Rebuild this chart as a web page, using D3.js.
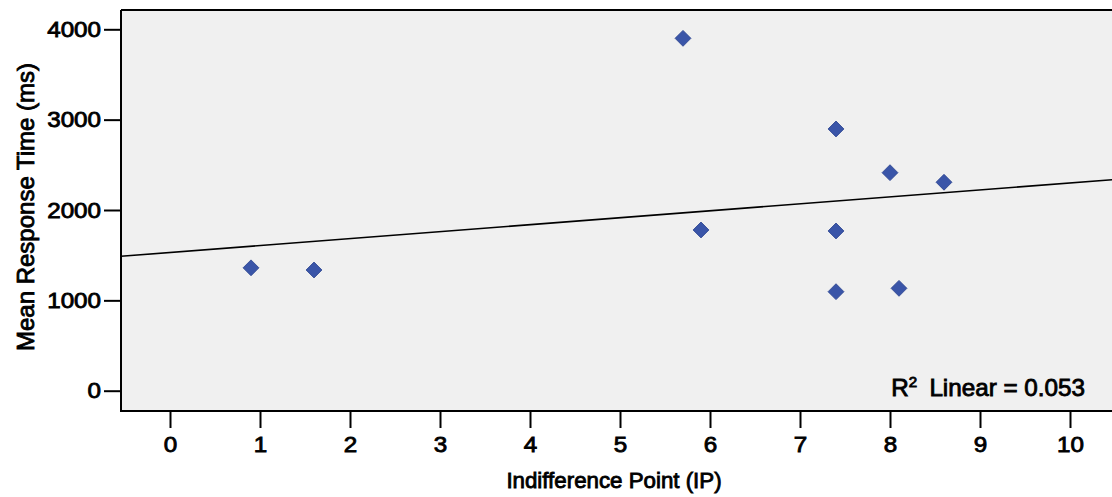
<!DOCTYPE html>
<html>
<head>
<meta charset="utf-8">
<script src="https://cdn.jsdelivr.net/npm/d3@7"></script>
<style>
  html, body { margin: 0; padding: 0; background: #ffffff; }
  svg { display: block; }
  text { font-family: "Liberation Sans", Arial, Helvetica, sans-serif; fill: #000; }
  .heavy { stroke: #000; stroke-width: 0.85px; paint-order: stroke; }
</style>
</head>
<body>
<svg id="chart" width="1112" height="497"></svg>
<script>
// Indifference point vs. mean response time, one point per participant
const ipValues   = [0.9, 1.6, 5.7, 5.9, 7.4, 7.4, 7.4, 8.0, 8.1, 8.6];
const rtValues   = [1360, 1336, 3900, 1779, 2897, 1768, 1096, 2413, 1133, 2307];
const xTickVals  = [0, 1, 2, 3, 4, 5, 6, 7, 8, 9, 10];
const yTickVals  = [0, 1000, 2000, 3000, 4000];
const rSquaredLabel = "0.053";

const frame = { left: 121, right: 1116, top: 10, bottom: 411 };
const WIDEN = 1.1; // horizontal stretch applied to tick labels

const svg = d3.select("#chart");

const x = d3.scaleLinear().domain([0, 10]).range([170, 1070]);
const y = d3.scaleLinear().domain([0, 4000]).range([390.7, 29.3]);

// plot background
svg.append("rect")
  .attr("x", frame.left).attr("y", frame.top)
  .attr("width", frame.right - frame.left)
  .attr("height", frame.bottom - frame.top)
  .attr("fill", "#f0f0f0");

svg.append("clipPath").attr("id", "plotClip")
  .append("rect")
  .attr("x", frame.left).attr("y", frame.top)
  .attr("width", frame.right - frame.left)
  .attr("height", frame.bottom - frame.top);

// least-squares fit line
const n = ipValues.length;
const mx = d3.mean(ipValues), my = d3.mean(rtValues);
let sxy = 0, sxx = 0;
for (let i = 0; i < n; i++) {
  sxy += (ipValues[i] - mx) * (rtValues[i] - my);
  sxx += (ipValues[i] - mx) ** 2;
}
const slope = sxy / sxx, intercept = my - slope * mx;
const xLo = x.invert(frame.left), xHi = x.invert(frame.right);

svg.append("line")
  .attr("clip-path", "url(#plotClip)")
  .attr("x1", x(xLo)).attr("y1", y(intercept + slope * xLo))
  .attr("x2", x(xHi)).attr("y2", y(intercept + slope * xHi))
  .attr("stroke", "#000").attr("stroke-width", 1.6);

// points
const diamond = d3.symbol().type(d3.symbolSquare).size(126);
svg.append("g").attr("clip-path", "url(#plotClip)")
  .selectAll("path")
  .data(d3.range(n))
  .join("path")
  .attr("d", diamond)
  .attr("transform", i => `translate(${x(ipValues[i])},${y(rtValues[i])}) rotate(45)`)
  .attr("fill", "#3a55a8")
  .attr("stroke", "#2c4590")
  .attr("stroke-width", 0.8);

// frame lines (top, left, bottom)
const frameG = svg.append("g").attr("stroke", "#000").attr("stroke-width", 2);
frameG.append("line").attr("x1", frame.left).attr("x2", frame.right).attr("y1", frame.top).attr("y2", frame.top);
frameG.append("line").attr("x1", frame.left).attr("x2", frame.left).attr("y1", frame.top).attr("y2", frame.bottom);
frameG.append("line").attr("x1", frame.left - 1).attr("x2", frame.right).attr("y1", frame.bottom).attr("y2", frame.bottom);

// y axis
const yAxis = svg.append("g")
  .attr("transform", `translate(${frame.left},0)`)
  .call(d3.axisLeft(y).tickValues(yTickVals).tickFormat(d3.format("d")).tickSize(17).tickPadding(3));
yAxis.select(".domain").remove();
yAxis.selectAll(".tick line").attr("stroke", "#000").attr("stroke-width", 2);
yAxis.selectAll(".tick text")
  .attr("class", "heavy")
  .attr("font-size", 22)
  .attr("font-family", "'Liberation Sans', Arial, sans-serif")
  .attr("fill", "#000")
  .attr("x", -20 / WIDEN)
  .attr("transform", `scale(${WIDEN},1)`);

// x axis
const xAxis = svg.append("g")
  .attr("transform", `translate(0,${frame.bottom})`)
  .call(d3.axisBottom(x).tickValues(xTickVals).tickFormat(d3.format("d")).tickSize(17).tickPadding(8));
xAxis.select(".domain").remove();
xAxis.selectAll(".tick line").attr("stroke", "#000").attr("stroke-width", 2);
xAxis.selectAll(".tick text")
  .attr("class", "heavy")
  .attr("font-size", 22)
  .attr("font-family", "'Liberation Sans', Arial, sans-serif")
  .attr("fill", "#000")
  .attr("transform", `scale(${WIDEN},1)`);

// axis titles
svg.append("text")
  .attr("class", "heavy")
  .attr("x", 614).attr("y", 488)
  .attr("text-anchor", "middle")
  .attr("font-size", 22.3)
  .text("Indifference Point (IP)");

svg.append("text")
  .attr("class", "heavy")
  .attr("transform", "translate(34,207) rotate(-90)")
  .attr("text-anchor", "middle")
  .attr("font-size", 24)
  .text("Mean Response Time (ms)");

// fit statistic
const r2 = svg.append("text")
  .attr("class", "heavy")
  .attr("transform", `translate(1085,396) scale(1.01,1)`)
  .attr("text-anchor", "end")
  .attr("font-size", 24);
r2.append("tspan").text("R");
r2.append("tspan").attr("font-size", 15).attr("dy", -9).text("2");
r2.append("tspan").attr("dy", 9).text("\u2002Linear = " + rSquaredLabel);
</script>
</body>
</html>
